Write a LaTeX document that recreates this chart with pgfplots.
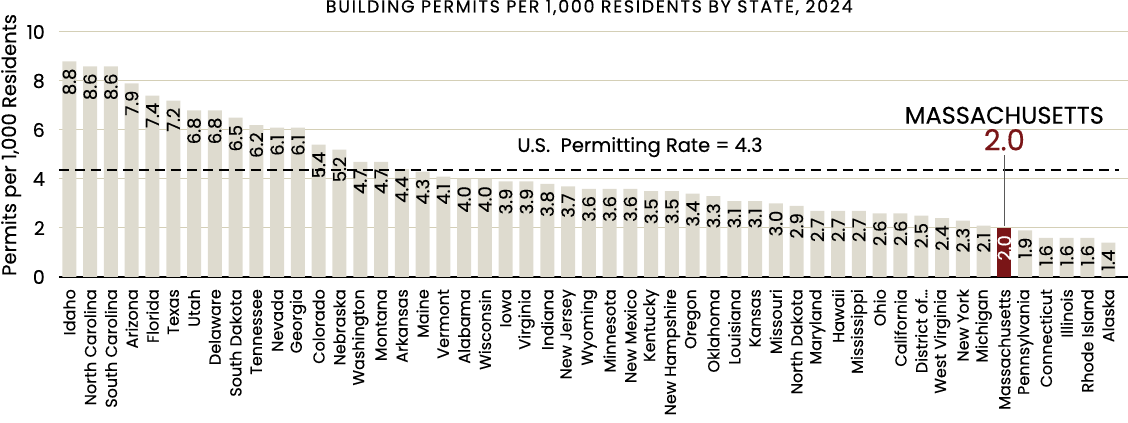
\documentclass[border=0pt]{standalone}
\usepackage{fontspec}
\setmainfont{Poppins}[FakeBold=0.3]
\usepackage{pgfplots}
\pgfplotsset{compat=1.18}
\definecolor{barbeige}{RGB}{222,219,207}
\definecolor{gridbeige}{RGB}{212,207,182}
\definecolor{mared}{RGB}{122,21,23}
\begin{document}
\begin{tikzpicture}
\begin{axis}[
	name=ax,
	scale only axis,
	width=1069pt, height=245pt,
	xmin=-0.5, xmax=50.95,
	ymin=0, ymax=10,
	ytick={0,2,4,6,8,10},
	ymajorgrids,
	grid style={gridbeige, line width=1pt},
	axis x line*=bottom,
	axis y line*=left,
	x axis line style={black, line width=2pt, -},
	y axis line style={draw=none},
	major tick length=0pt,
	xtick={0,...,50},
	xticklabels={Idaho,North Carolina,South Carolina,Arizona,Florida,Texas,Utah,Delaware,South Dakota,Tennessee,Nevada,Georgia,Colorado,Nebraska,Washington,Montana,Arkansas,Maine,Vermont,Alabama,Wisconsin,Iowa,Virginia,Indiana,New Jersey,Wyoming,Minnesota,New Mexico,Kentucky,New Hampshire,Oregon,Oklahoma,Louisiana,Kansas,Missouri,North Dakota,Maryland,Hawaii,Mississippi,Ohio,California,District of\ldots,West Virginia,New York,Michigan,Massachusetts,Pennsylvania,Connecticut,Illinois,Rhode Island,Alaska},
	xticklabel style={font=\fontsize{16}{16}\selectfont, yshift=-12pt, rotate=90, anchor=east, inner sep=0pt},
	yticklabel style={font=\fontsize{19}{19}\selectfont, anchor=east, xshift=-14pt, inner sep=0pt},
	/pgf/number format/assume math mode=true,
	ylabel={Permits per 1,000 Residents},
	ylabel style={font=\fontsize{19.5}{19.5}\selectfont, at={(axis description cs:-0.0402,0.539)}, anchor=base, inner sep=0pt},
	title={\addfontfeatures{LetterSpace=10}BUILDING PERMITS PER 1,000 RESIDENTS BY STATE, 2024},
	title style={font=\fontsize{17.4}{17.4}\selectfont, at={(axis description cs:0.496,1)}, anchor=base, yshift=13.5pt, inner sep=0pt},
	ybar, bar width=14pt,
	nodes near coords={\pgfmathprintnumber[fixed,fixed zerofill,precision=1]{\pgfplotspointmeta}},
	nodes near coords style={font=\fontsize{18}{18}\selectfont, rotate=90, anchor=east, inner sep=0pt, xshift=-7pt},
	clip=false,
]
\addplot[fill=barbeige, draw=none, bar shift=0pt] coordinates {
(0,8.8) (1,8.6) (2,8.6) (3,7.9) (4,7.4) (5,7.2) (6,6.8) (7,6.8) (8,6.5) (9,6.2)
(10,6.1) (11,6.1) (12,5.4) (13,5.2) (14,4.7) (15,4.7) (16,4.4) (17,4.3) (18,4.1) (19,4.0)
(20,4.0) (21,3.9) (22,3.9) (23,3.8) (24,3.7) (25,3.6) (26,3.6) (27,3.6) (28,3.5) (29,3.5)
(30,3.4) (31,3.3) (32,3.1) (33,3.1) (34,3.0) (35,2.9) (36,2.7) (37,2.7) (38,2.7) (39,2.6)
(40,2.6) (41,2.5) (42,2.4) (43,2.3) (44,2.1) (46,1.9) (47,1.6) (48,1.6) (49,1.6) (50,1.4)
};
\addplot[fill=mared, draw=none, bar shift=0pt, nodes near coords style={white}] coordinates {(45,2.0)};
\addplot[sharp plot, black, line width=2pt, dash pattern=on 10pt off 6pt, nodes near coords={}, update limits=false] coordinates {(-0.5,4.35) (50.5,4.35)};
\addplot[sharp plot, black!65, line width=1pt, nodes near coords={}, update limits=false] coordinates {(45,2.1) (45,4.98)};
\node[font=\fontsize{19.5}{19.5}\selectfont] at (axis cs:27.46,5.3) {U.S.\ \ Permitting Rate = 4.3};
\node[font=\fontsize{24}{24}\selectfont] at (axis cs:45,6.6) {MASSACHUSETTS};
\node[font=\fontsize{29}{29}\selectfont, text=mared] at (axis cs:45,5.6) {2.0};
\end{axis}
\pgfresetboundingbox
\path[use as bounding box] ([xshift=-59pt,yshift=-146pt]ax.south west) rectangle ([yshift=32pt]ax.north east);
\end{tikzpicture}
\end{document}
